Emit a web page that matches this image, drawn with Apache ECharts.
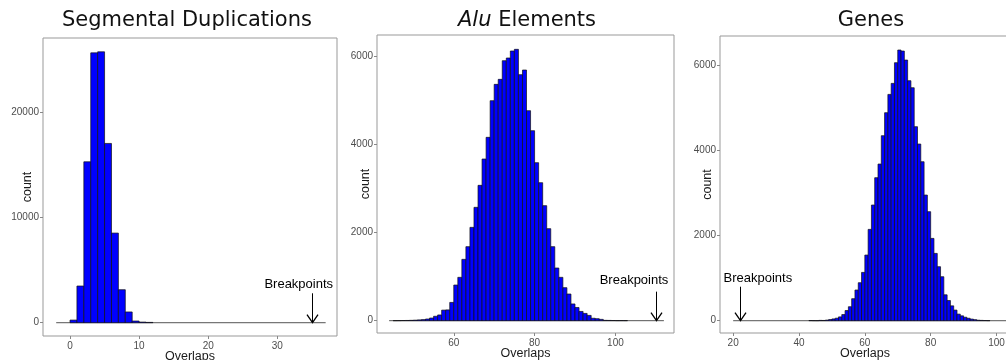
<!DOCTYPE html>
<html>
<head>
<meta charset="utf-8">
<script src="https://cdn.jsdelivr.net/npm/echarts@6/dist/echarts.min.js"></script>
<style>
  html, body { margin: 0; padding: 0; background: #fff; }
  #chart { width: 1006px; height: 360px; }
</style>
</head>
<body>
<div id="chart"></div>
<script>
// Histogram of overlap counts per permutation, one bin per integer (bin width 1).
// Counts are listed from the left edge of the first non-empty bin.
const sdBinStart = 0;
const sdCounts = [250, 3480, 15260, 25590, 25690, 17000, 8500, 3130, 1020, 160, 60, 30];

const aluBinStart = 45;
const aluCounts = [
  1, 2, 4, 5, 8, 12, 18, 25, 38, 60,
  100, 130, 240, 245, 415, 810, 985, 1394, 1682, 2121,
  2576, 3076, 3674, 4167, 5000, 5371, 5485, 5909, 5970, 6129,
  6167, 5591, 5697, 4773, 4318, 3591, 3136, 2614, 2091, 1682,
  1197, 985, 750, 606, 380, 300, 210, 165, 120, 55,
  45, 30, 8, 6, 4, 2, 3, 2
];

const geneBinStart = 43;
const geneCounts = [
  5, 3, 2, 8, 6, 15, 28, 42, 60, 90,
  145, 240, 329, 518, 722, 894, 1137, 1545, 2149, 2722,
  3365, 3686, 4353, 4894, 5325, 5584, 6071, 6369, 6345, 6133,
  5647, 5482, 4565, 4157, 3741, 2957, 2565, 1937, 1584, 1271,
  1035, 610, 475, 350, 250, 155, 115, 82, 58, 38,
  25, 12, 8, 5, 3
];

// Span of the empty (zero-count) bins drawn along the baseline.
const sdZeroSpan = [-2, 37];
const aluZeroSpan = [44, 112];
const geneZeroSpan = [20, 104];

// Observed breakpoint overlaps: [arrow x, arrow top y, label x, label y].
const sdBreakpoint = [35, 2790, 33.1, 3640];
const aluBreakpoint = [110, 660, 104.6, 925];
const geneBreakpoint = [22, 800, 27.5, 1000];

// Tick labels.
const sdXTicks = [0, 10, 20, 30];
const sdYTicks = [0, 10000, 20000];
const aluXTicks = [60, 80, 100];
const aluYTicks = [0, 2000, 4000, 6000];
const geneXTicks = [20, 40, 60, 80, 100];
const geneYTicks = [0, 2000, 4000, 6000];

const titles = ['Segmental Duplications', '{i|Alu} Elements', 'Genes'];

const SANS = "'Liberation Sans', Arial, sans-serif";
const TITLE_FONT = "'DejaVu Sans', sans-serif";

function toBins(start, counts) {
  return counts.map((c, i) => [start + i, start + i + 1, c]);
}

function barRender(params, api) {
  const top = api.coord([api.value(0), api.value(2)]);
  const bottom = api.coord([api.value(1), 0]);
  return {
    type: 'rect',
    shape: { x: top[0], y: top[1], width: bottom[0] - top[0], height: bottom[1] - top[1] },
    style: { fill: '#0000ff', stroke: '#111', lineWidth: 0.7 }
  };
}

function arrowRender(params, api) {
  const tip = api.coord([api.value(0), 0]);
  const tail = api.coord([api.value(0), api.value(1)]);
  const lab = api.coord([api.value(2), api.value(3)]);
  const x = Math.round(tip[0]) + 0.5;
  return {
    type: 'group',
    children: [
      { type: 'line', shape: { x1: x, y1: tail[1], x2: x, y2: tip[1] },
        style: { stroke: '#000', lineWidth: 1 } },
      { type: 'polyline', shape: { points: [[x - 5.5, tip[1] - 8], [x, tip[1]], [x + 5.5, tip[1] - 8]] },
        style: { stroke: '#000', lineWidth: 1.3, fill: null } },
      { type: 'text', x: lab[0], y: lab[1],
        style: { text: 'Breakpoints', font: "13px " + SANS, fill: '#000', align: 'center', verticalAlign: 'middle' } }
    ]
  };
}

function xAxis(idx, min, max, ticks) {
  return {
    type: 'value', gridIndex: idx, min: min, max: max,
    splitLine: { show: false },
    axisLine: { show: false, onZero: false },
    axisTick: { show: true, length: 3, customValues: ticks, lineStyle: { color: '#888' } },
    axisLabel: { customValues: ticks, margin: 5, fontSize: 10, fontFamily: SANS, color: '#4d4d4d',
                 formatter: v => String(v) },
    name: 'Overlaps', nameLocation: 'middle', nameGap: 14, nameMoveOverlap: false,
    nameTextStyle: { fontSize: 12.5, fontFamily: SANS, color: '#1a1a1a' }
  };
}

function yAxis(idx, min, max, ticks, gap) {
  return {
    type: 'value', gridIndex: idx, min: min, max: max,
    splitLine: { show: false },
    axisLine: { show: false, onZero: false },
    axisTick: { show: true, length: 3, customValues: ticks, lineStyle: { color: '#888' } },
    axisLabel: { customValues: ticks, margin: 4, fontSize: 10, fontFamily: SANS, color: '#4d4d4d',
                 formatter: v => String(v) },
    name: 'count', nameLocation: 'middle', nameGap: gap, nameRotate: 90, nameMoveOverlap: false,
    nameTextStyle: { fontSize: 12.5, fontFamily: SANS, color: '#1a1a1a' }
  };
}

function panelSeries(idx, start, counts, zeroSpan, bp) {
  return [
    {
      type: 'line', xAxisIndex: idx, yAxisIndex: idx, silent: true, symbol: 'none',
      data: [[zeroSpan[0], 0], [zeroSpan[1], 0]],
      lineStyle: { color: '#555', width: 1 }, z: 1
    },
    {
      type: 'custom', xAxisIndex: idx, yAxisIndex: idx, silent: true,
      data: toBins(start, counts), encode: { x: [0, 1], y: 2 },
      renderItem: barRender, z: 2
    },
    {
      type: 'custom', xAxisIndex: idx, yAxisIndex: idx, silent: true, clip: false,
      data: [bp], encode: { x: [0, 2], y: [1, 3] },
      renderItem: arrowRender, z: 3
    }
  ];
}

const titleStyle = {
  fontSize: 21, fontWeight: 'normal', fontFamily: TITLE_FONT, color: '#111',
  rich: { i: { fontSize: 21, fontStyle: 'italic', fontFamily: TITLE_FONT, color: '#111' } }
};

const gridBase = { show: true, borderColor: '#999', borderWidth: 1, backgroundColor: 'transparent',
                   containLabel: false, outerBoundsMode: 'none' };

const chart = echarts.init(document.getElementById('chart'), null, { renderer: 'canvas' });
chart.setOption({
  animation: false,
  backgroundColor: '#fff',
  title: [
    { text: titles[0], left: 187, top: 10, textAlign: 'center', padding: 0, textStyle: titleStyle },
    { text: titles[1], left: 527, top: 10, textAlign: 'center', padding: 0, textStyle: titleStyle },
    { text: titles[2], left: 871, top: 10, textAlign: 'center', padding: 0, textStyle: titleStyle }
  ],
  grid: [
    Object.assign({ left: 43, top: 38, width: 294, height: 298 }, gridBase),
    Object.assign({ left: 377, top: 35, width: 297, height: 298 }, gridBase),
    Object.assign({ left: 720, top: 36, width: 290, height: 297 }, gridBase)
  ],
  xAxis: [
    xAxis(0, -3.91, 38.64, sdXTicks),
    xAxis(1, 41, 114.5, aluXTicks),
    xAxis(2, 16, 104.1, geneXTicks)
  ],
  yAxis: [
    yAxis(0, -1260, 27000, sdYTicks, 9),
    yAxis(1, -280, 6493, aluYTicks, 5),
    yAxis(2, -289, 6699, geneYTicks, 6)
  ],
  series: [
    ...panelSeries(0, sdBinStart, sdCounts, sdZeroSpan, sdBreakpoint),
    ...panelSeries(1, aluBinStart, aluCounts, aluZeroSpan, aluBreakpoint),
    ...panelSeries(2, geneBinStart, geneCounts, geneZeroSpan, geneBreakpoint)
  ]
});
</script>
</body>
</html>
